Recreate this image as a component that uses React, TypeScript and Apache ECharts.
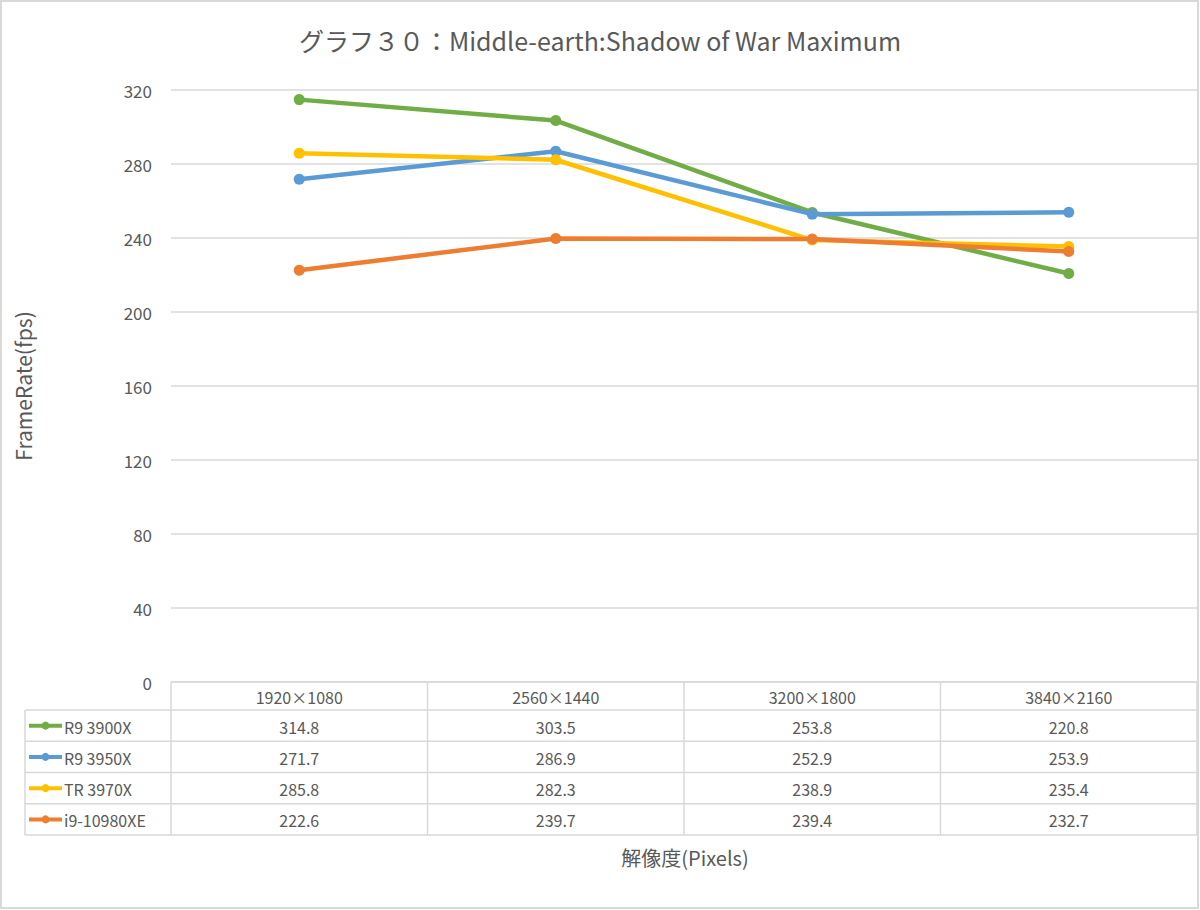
import React, { useEffect, useRef } from "react";
import * as echarts from "echarts";

const categories = ["1920×1080", "2560×1440", "3200×1800", "3840×2160"];
const seriesNames = ["R9 3900X", "R9 3950X", "TR 3970X", "i9-10980XE"];
const r9_3900x = [314.8, 303.5, 253.8, 220.8];
const r9_3950x = [271.7, 286.9, 252.9, 253.9];
const tr_3970x = [285.8, 282.3, 238.9, 235.4];
const i9_10980xe = [222.6, 239.7, 239.4, 232.7];
const seriesValues = [r9_3900x, r9_3950x, tr_3970x, i9_10980xe];
const colors = ["#70AD47", "#5B9BD5", "#FFC000", "#ED7D31"];
const yTicks = [0, 40, 80, 120, 160, 200, 240, 280, 320];

const W = 1200;
const H = 910;
const FONT = "'Noto Sans CJK JP', 'Noto Sans', sans-serif";
const TXT = "#595959";
const LINE = "#D9D9D9";

export default function App() {
  const ref = useRef<HTMLDivElement>(null);
  useEffect(() => {
    if (!ref.current) return;
    const chart = echarts.init(ref.current, null, { renderer: "svg" });

    const left = 171;
    const right = 1197;
    const top = 90;
    const bottom = 682;
    const colW = (right - left) / categories.length;
    const headerBottom = 710;
    const rowH = 31.25;
    const tableLeft = 25;

    const g: any[] = [];
    g.push({ type: "rect", shape: { x: 1, y: 1, width: W - 3, height: H - 3 }, style: { fill: "none", stroke: LINE, lineWidth: 2 }, silent: true });
    g.push({ type: "line", shape: { x1: left, y1: bottom, x2: right, y2: bottom }, style: { stroke: LINE, lineWidth: 1.5 } });
    for (let i = 0; i <= seriesNames.length; i++) {
      const y = headerBottom + i * rowH;
      g.push({ type: "line", shape: { x1: tableLeft, y1: y, x2: right, y2: y }, style: { stroke: LINE, lineWidth: 1.5 } });
    }
    const tableBottom = headerBottom + seriesNames.length * rowH;
    g.push({ type: "line", shape: { x1: tableLeft, y1: headerBottom, x2: tableLeft, y2: tableBottom }, style: { stroke: LINE, lineWidth: 1.5 } });
    for (let c = 0; c <= categories.length; c++) {
      const x = left + c * colW;
      g.push({ type: "line", shape: { x1: x, y1: bottom, x2: x, y2: tableBottom }, style: { stroke: LINE, lineWidth: 1.5 } });
    }
    categories.forEach((cat, c) => {
      g.push({ type: "text", x: left + (c + 0.5) * colW, y: (bottom + headerBottom) / 2 + 1, style: { text: cat, fill: TXT, font: `16px ${FONT}`, align: "center", verticalAlign: "middle" } });
    });
    seriesNames.forEach((name, r) => {
      const cy = headerBottom + (r + 0.5) * rowH + 1;
      g.push({ type: "line", shape: { x1: 29, y1: cy - 1, x2: 62, y2: cy - 1 }, style: { stroke: colors[r], lineWidth: 4 } });
      g.push({ type: "circle", shape: { cx: 45.5, cy: cy - 1, r: 4 }, style: { fill: colors[r] } });
      g.push({ type: "text", x: 64, y: cy, style: { text: name, fill: TXT, font: `16px ${FONT}`, align: "left", verticalAlign: "middle" } });
      seriesValues[r].forEach((v, c) => {
        g.push({ type: "text", x: left + (c + 0.5) * colW, y: cy, style: { text: v.toFixed(1), fill: TXT, font: `16px ${FONT}`, align: "center", verticalAlign: "middle" } });
      });
    });
    g.push({ type: "text", x: 685, y: 857, style: { text: "解像度(Pixels)", fill: TXT, font: `20px ${FONT}`, align: "center", verticalAlign: "middle" } });

    chart.setOption({
      animation: false,
      backgroundColor: "#ffffff",
      title: {
        text: "グラフ３０：Middle-earth:Shadow of War Maximum",
        left: "center",
        top: 22,
        textStyle: { color: TXT, fontSize: 25, fontWeight: "normal", fontFamily: FONT },
      },
      grid: { left, right: W - right, top, bottom: H - bottom },
      xAxis: {
        type: "category",
        data: categories,
        boundaryGap: true,
        axisLine: { show: false },
        axisTick: { show: false },
        axisLabel: { show: false },
      },
      yAxis: {
        type: "value",
        min: yTicks[0],
        max: yTicks[yTicks.length - 1],
        interval: 40,
        name: "FrameRate(fps)",
        nameLocation: "middle",
        nameGap: 138,
        nameRotate: 90,
        nameTextStyle: { color: TXT, fontSize: 21, fontFamily: FONT },
        axisLine: { show: false },
        axisTick: { show: false },
        axisLabel: { color: TXT, fontSize: 17, fontFamily: FONT, margin: 19 },
        splitLine: { lineStyle: { color: LINE, width: 1.5 } },
      },
      series: seriesNames.map((name, i) => ({
        name,
        type: "line",
        data: seriesValues[i],
        symbol: "circle",
        symbolSize: 11,
        lineStyle: { color: colors[i], width: 4.5 },
        itemStyle: { color: colors[i] },
        z: 2 + i,
      })),
      graphic: g,
    });
    return () => chart.dispose();
  }, []);
  return <div ref={ref} style={{ position: "absolute", left: 0, top: 0, width: W, height: H }} />;
}
